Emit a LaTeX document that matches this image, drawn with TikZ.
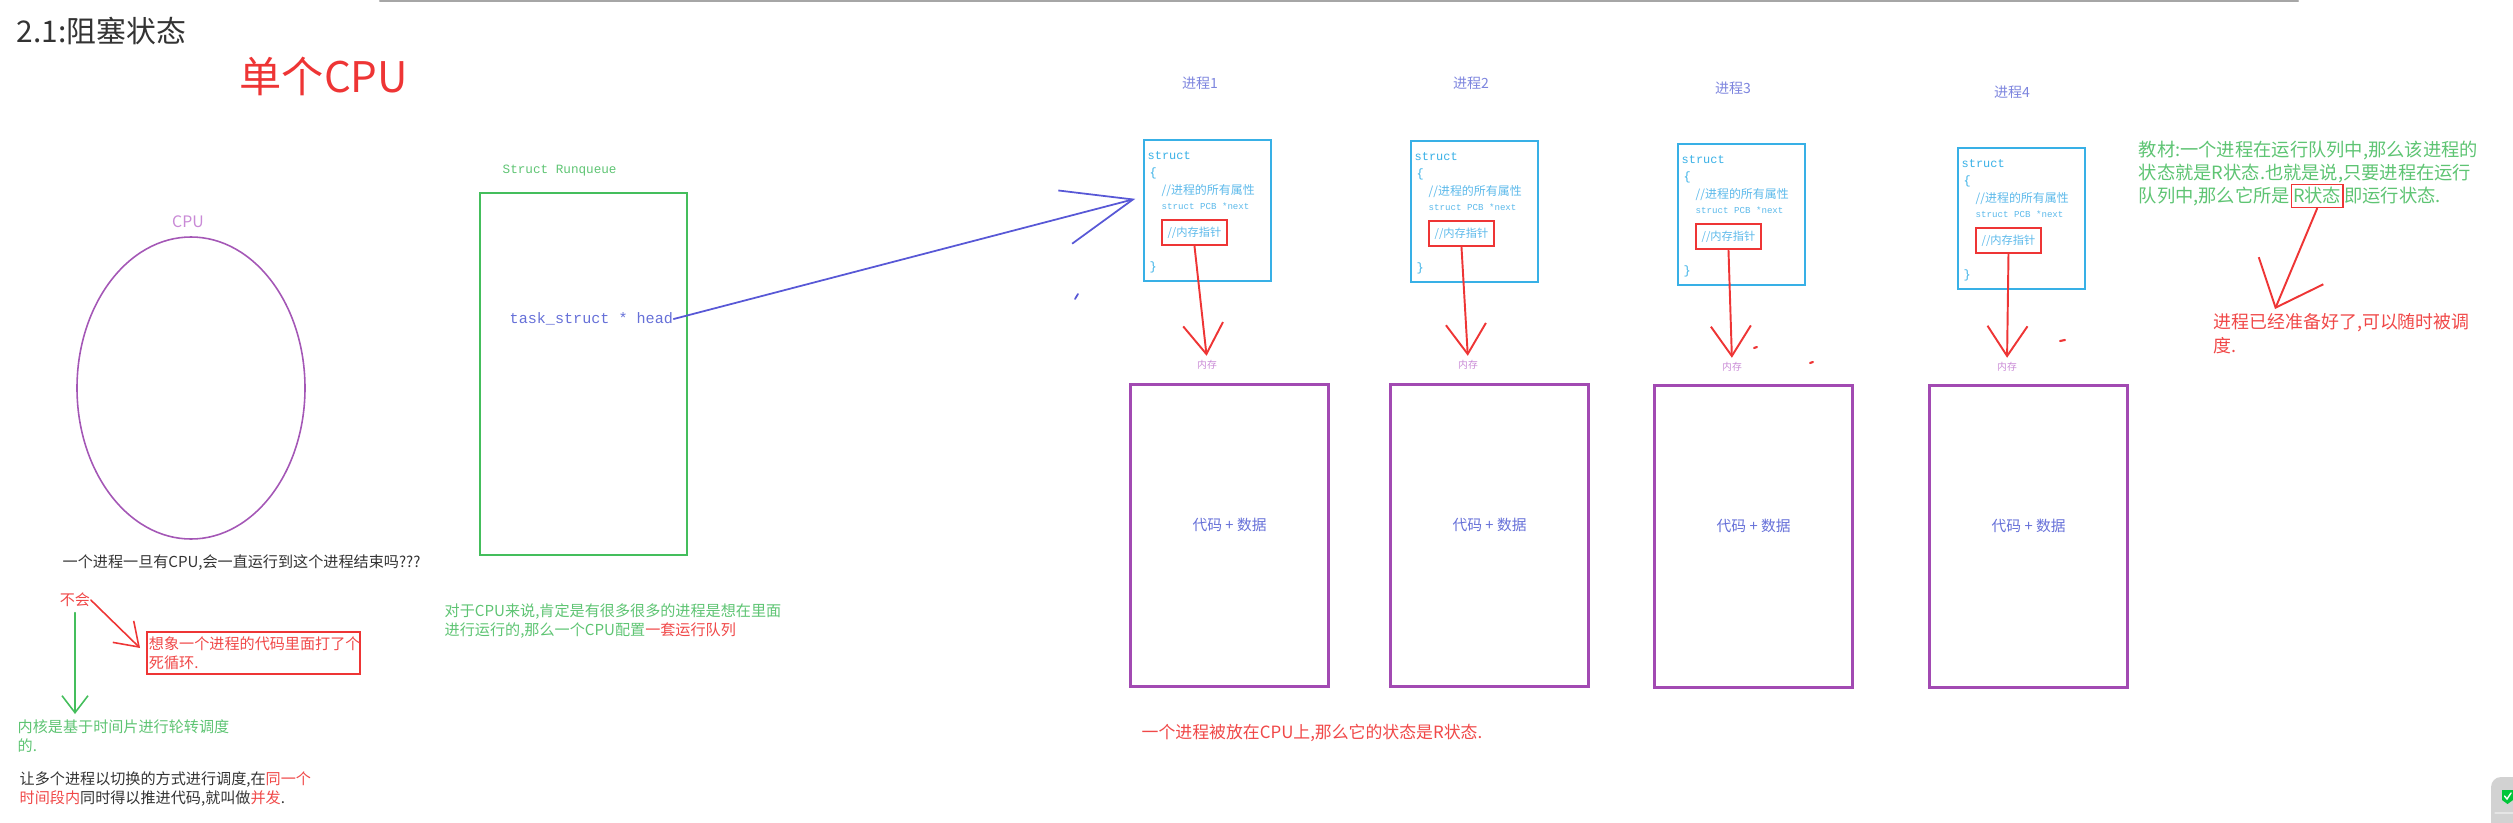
\documentclass[tikz,border=0pt]{standalone}
\usepackage{fontspec}
\setmainfont{Noto Sans CJK SC}
\newfontfamily\codefont{Liberation Mono}
\usetikzlibrary{arrows.meta}
\usetikzlibrary{shapes.geometric}
\usetikzlibrary{positioning}
\definecolor{penred}{HTML}{EE3535}
\definecolor{textred}{HTML}{F04848}
\definecolor{pengreen}{HTML}{44BE5C}
\definecolor{textgreen}{HTML}{5EC473}
\definecolor{cpuviolet}{HTML}{A457B6}
\definecolor{paleviolet}{HTML}{C98AD6}
\definecolor{penblue}{HTML}{5858D6}
\definecolor{inkblue}{HTML}{6670D8}
\definecolor{boxblue}{HTML}{38B0E6}
\definecolor{paleblue}{HTML}{5CB9EA}
\definecolor{memviolet}{HTML}{A24AB2}
\definecolor{darkink}{HTML}{333333}
\newcommand{\setsz}[2]{\fontsize{#1}{#2}\selectfont}
\newcommand{\pcbbody}[1]{%
  \node[code word,anchor=west] (#1kw) at ([shift={(4,17)}]#1.north west) {struct};
  \node[code word,anchor=west] (#1open) at ([shift={(6,34)}]#1.north west) {\{};
  \node[code note,anchor=west] (#1attr) at ([shift={(18,52)}]#1.north west) {//进程的所有属性};
  \node[code small,anchor=west] (#1next) at ([shift={(18,67)}]#1.north west) {struct PCB *next};
  \node[ptr box,anchor=north west] (#1ptr) at ([shift={(18,80)}]#1.north west) {//内存指针};
  \node[code word,anchor=west] (#1close) at ([shift={(6,128)}]#1.north west) {\}};
}

\begin{document}
\begin{tikzpicture}[x=0.1mm,y=-0.1mm,line cap=round,
    every node/.style={inner sep=0pt},
    note/.style={font=\setsz{4.3}{5.4},align=left},
    code word/.style={font=\codefont\setsz{3.4}{4},text=boxblue},
    code note/.style={font=\setsz{3.4}{4},text=paleblue},
    code small/.style={font=\codefont\setsz{2.6}{3},text=paleblue},
    pcb box/.style={draw=boxblue,line width=0.6pt,minimum width=12.7mm,minimum height=14.1mm},
    ptr box/.style={draw=penred,line width=0.55pt,minimum width=6.5mm,minimum height=2.5mm,font=\setsz{3.2}{4},text=paleblue},
    mem box/.style={draw=memviolet,line width=0.9pt,minimum width=19.8mm,minimum height=30.2mm,text depth=2.2mm,font=\setsz{4.2}{5},text=inkblue},
    proc label/.style={font=\setsz{4}{5},text=inkblue!85},
    mem label/.style={font=\setsz{2.8}{3},text=paleviolet},
    book line/.style={font=\setsz{5.2}{6.6},text=textgreen,text height=1.6mm,text depth=0.4mm},
    ptr arrow/.style={penred,line width=0.55pt,shorten >=0.4mm,-{Straight Barb[length=3mm,width=4mm]}}]
  \useasboundingbox (0,0) rectangle (2513,822);
  \draw[gray!70,line width=0.6pt] (380,1) -- (2298,1);

  % heading
  \node[font=\setsz{8.5}{10},text=darkink,anchor=west] (title) at (16,31) {2.1:阻塞状态};
  \node[font=\setsz{12}{14},text=penred,anchor=west] (single) at (239,76) {单个CPU};

  % cpu
  \node[ellipse,draw=cpuviolet,line width=0.45pt,minimum width=22.8mm,minimum height=30.2mm] (cpu) at (191,388) {};
  \node[font=\setsz{4.5}{5},text=paleviolet] (cpulabel) at (188,222) {CPU};
  \node[note,text=darkink,anchor=west] (ask) at (62,563) {一个进程一旦有CPU,会一直运行到这个进程结束吗???};
  \node[note,text=textred] (no) at (75,600) {不会};
  \node[note,draw=penred,line width=0.55pt,text=textred,anchor=north west,text width=20.9mm,inner sep=0.2mm,minimum height=4.2mm] (loop) at (146,631) {想象一个进程的代码里面打了个\\死循环.};
  \node[note,text=textgreen,anchor=north west] (kernel) at (17,719) {内核是基于时间片进行轮转调度\\的.};
  \node[note,text=darkink,anchor=north west] (concur) at (19,771) {让多个进程以切换的方式进行调度,在\textcolor{textred}{同一个}\\\textcolor{textred}{时间段内}同时得以推进代码,就叫做\textcolor{textred}{并发}.};
  \draw[penred,line width=0.45pt,-{Straight Barb[length=2.2mm,width=3mm]}] (no.east) -- ([shift={(-6,-5)}]loop.west);
  \draw[pengreen,line width=0.45pt,shorten <=0.5mm,shorten >=0.5mm,-{Straight Barb[length=1.7mm,width=2.6mm]}] (no.south) -- (no.south |- kernel.north);

  % run queue
  \node[font=\codefont\setsz{3.6}{4},text=textgreen,anchor=west] (rqlabel) at (502,171) {Struct Runqueue};
  \node[draw=pengreen,line width=0.55pt,anchor=north west,minimum width=20.7mm,minimum height=36.2mm] (rq) at (479,192) {};
  \node[font=\codefont\setsz{4.3}{5},text=inkblue,anchor=west] (head) at (509,319) {task\_struct * head};
  \node[note,text=textgreen,anchor=north west] (rqnote) at (444,603) {对于CPU来说,肯定是有很多很多的进程是想在里面\\进行运行的,那么一个CPU配置\textcolor{textred}{一套运行队列}};

  % processes
  \node[proc label] (p1) at (1200,83) {进程1};
  \node[pcb box,anchor=north west] (pcb1) at (1143,139) {};
  \pcbbody{pcb1}
  \node[mem label] (m1) at (1207,365) {内存};
  \node[mem box,anchor=north west] (mem1) at (1129,383) {代码 + 数据};

  \node[proc label] (p2) at (1471,83) {进程2};
  \node[pcb box,anchor=north west] (pcb2) at (1410,140) {};
  \pcbbody{pcb2}
  \node[mem label] (m2) at (1468,365) {内存};
  \node[mem box,anchor=north west] (mem2) at (1389,383) {代码 + 数据};

  \node[proc label] (p3) at (1733,88) {进程3};
  \node[pcb box,anchor=north west] (pcb3) at (1677,143) {};
  \pcbbody{pcb3}
  \node[mem label] (m3) at (1732,367) {内存};
  \node[mem box,anchor=north west] (mem3) at (1653,384) {代码 + 数据};

  \node[proc label] (p4) at (2012,92) {进程4};
  \node[pcb box,anchor=north west] (pcb4) at (1957,147) {};
  \pcbbody{pcb4}
  \node[mem label] (m4) at (2007,367) {内存};
  \node[mem box,anchor=north west] (mem4) at (1928,384) {代码 + 数据};

  \draw[ptr arrow] (pcb1ptr.south) -- (m1.north);
  \draw[ptr arrow] (pcb2ptr.south) -- (m2.north);
  \draw[ptr arrow] (pcb3ptr.south) -- (m3.north);
  \draw[ptr arrow] (pcb4ptr.south) -- (m4.north);
  \draw[penblue,line width=0.5pt,shorten >=0.8mm,-{Straight Barb[length=7mm,width=5.5mm]}] (head.east) -- (pcb1.168);
  \node[note,font=\setsz{4.8}{6},text=textred,anchor=west] (oncpu) at (1141,733) {一个进程被放在CPU上,那么它的状态是R状态.};

  % stray pen marks
  \draw[penblue,line width=0.5pt] (1075,299) -- (1078,294);
  \draw[penred,line width=0.6pt] (1754,348) -- (1757,347);
  \draw[penred,line width=0.6pt] (1810,363) -- (1813,362);
  \draw[penred,line width=0.6pt] (2060,341) -- (2065,340);

  % textbook note
  \node[note,font=\setsz{5.2}{6.6},text=textgreen,anchor=north west] (book) at (2138,140) {教材:一个进程在运行队列中,那么该进程的\\状态就是R状态.也就是说,只要进程在运行};
  \node[book line,anchor=west] (bookend) at (2138,196) {队列中,那么它所是};
  \node[book line,draw=penred,line width=0.5pt,inner sep=0.15mm,right=0pt of bookend] (rstate) {R状态};
  \node[book line,right=0pt of rstate] (booktail) {即运行状态.};
  \coordinate (readytip) at (2275,309);
  \draw[penred,line width=0.55pt,-{Straight Barb[length=4mm,width=7mm]}] (rstate.south) -- (readytip);
  \node[note,font=\setsz{5.1}{6.6},text=textred,anchor=north west] (ready) at (2213,313) {进程已经准备好了,可以随时被调\\度.};

  % corner widget
  \fill[gray!35,rounded corners=1mm] (2491,777) rectangle (2540,850);
  \fill[green!55!teal] (2502,790) -- (2513,790) -- (2513,800) -- (2507.5,804) -- (2502,800) -- cycle;
  \draw[white,line width=0.4pt] (2504.5,796) -- (2507,799) -- (2511,793);
  \draw[gray!20,line width=0.4pt] (2495,813) -- (2513,813);
\end{tikzpicture}
\end{document}
